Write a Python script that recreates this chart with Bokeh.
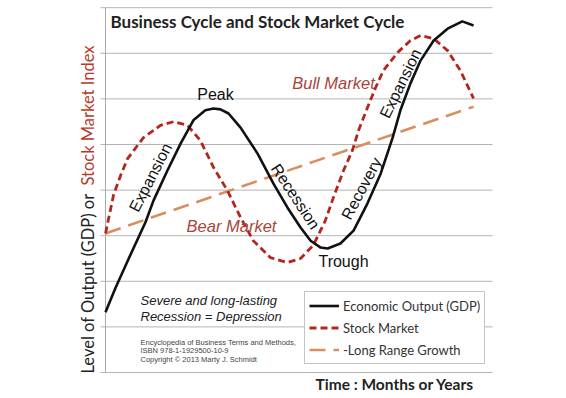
import math
from bokeh.plotting import figure
from bokeh.models import Label, Legend, LegendItem, Range1d
from bokeh.embed import file_html
from bokeh.resources import INLINE

# ---- data (time in % of horizon, level in grid units) ----
time_gdp = [0, 2.6, 5.9, 10.3, 12.4, 16.0, 19.4, 22.7, 25.8, 27.9, 29.7, 31.8, 34.9, 39.3,
            43.4, 47.0, 50.4, 53.0, 55.6, 57.4, 60.7, 64.1, 67.7, 71.1, 74.2, 76.2, 78.8,
            81.4, 84.8, 88.4, 92.2, 95.1]
level_gdp = [1.32, 1.86, 2.48, 3.29, 3.77, 4.43, 5.02, 5.53, 5.75, 5.79, 5.77, 5.68, 5.37, 4.80,
             4.14, 3.62, 3.18, 2.89, 2.74, 2.72, 2.83, 3.11, 3.71, 4.36, 5.15, 5.75, 6.34,
             6.84, 7.28, 7.54, 7.70, 7.61]

time_stock = [0, 2.1, 3.9, 5.7, 9.8, 14.2, 17.6, 21.2, 24.5, 27.9, 31.5, 34.9, 38.2, 42.6,
              47.0, 50.4, 53.7, 56.8, 58.9, 61.5, 63.8, 65.4, 67.7, 69.8, 71.8, 75.5, 78.8,
              81.4, 84.8, 88.4, 91.7, 95.1]
level_stock = [3.05, 3.90, 4.32, 4.69, 5.15, 5.42, 5.50, 5.42, 5.09, 4.50, 3.99, 3.40, 2.89, 2.52,
               2.41, 2.50, 2.79, 3.33, 3.84, 4.43, 4.87, 5.31, 5.81, 6.25, 6.62, 7.02, 7.28,
               7.39, 7.32, 7.06, 6.62, 6.01]

time_trend = [0, 95.1]
level_trend = [3.05, 5.83]

grid_levels = [0, 1, 2, 3, 4, 5, 6, 7, 8]
time_span = [0, 100]

# ---- layout (frame covers the whole canvas) ----
W, H = 556, 394
X0PX, X1PX = 105, 492       # plot area left/right in px
Y0PX, PX_PER_LEVEL = 372, 45.6
PX_PER_T = (X1PX - X0PX) / (time_span[1] - time_span[0])

def tx(px):
    return (px - X0PX) / PX_PER_T

def ty(py):
    return (Y0PX - py) / PX_PER_LEVEL

p = figure(width=W, height=H, output_backend="svg", toolbar_location=None,
           x_range=Range1d(tx(0), tx(W)), y_range=Range1d(ty(H), ty(0)),
           min_border=0, x_axis_location=None, y_axis_location=None)
p.outline_line_color = None
p.background_fill_color = "white"
p.border_fill_color = "white"
for g in p.grid:
    g.visible = False

# horizontal grid lines with small outside tick stubs, plus the vertical axis line
tick_len = 5 / PX_PER_T
p.segment(x0=[time_span[0] - tick_len] * len(grid_levels), x1=[time_span[1]] * len(grid_levels),
          y0=grid_levels, y1=grid_levels, line_color="#b4b4b4", line_width=1)
p.segment(x0=[time_span[0]], x1=[time_span[0]], y0=[grid_levels[0]], y1=[grid_levels[-1]],
          line_color="#a8a8a8", line_width=1)

r_trend = p.line(time_trend, level_trend, line_color="#d98e60", line_width=2.6, line_dash="16 8")
r_stock = p.line(time_stock, level_stock, line_color="#b3261e", line_width=2.8, line_dash="7 4")
r_gdp = p.line(time_gdp, level_gdp, line_color="#111111", line_width=2.6)

SANS = "Liberation Sans"

def lab(text, px, py, size="16px", font=SANS, style="normal", color="#111111",
        align="center", baseline="middle", angle=0.0):
    p.add_layout(Label(x=tx(px), y=ty(py), text=text, text_font=font, text_font_size=size,
                       text_font_style=style, text_color=color, text_align=align,
                       text_baseline=baseline, angle=math.radians(angle)))

lab("Business Cycle and Stock Market Cycle", 110, 21, size="17px", font="Lato",
    style="bold", color="#222222", align="left")
lab("Peak", 215, 94)
lab("Trough", 343, 261)
lab("Expansion", 150, 177, angle=62.8)
lab("Recession", 295, 196, angle=-56.5)
lab("Recovery", 361, 188, angle=62)
lab("Expansion", 400, 83, angle=64)
lab("Bull Market", 333, 82, size="16.5px", style="italic", color="#a8453a")
lab("Bear Market", 231, 225, size="16.5px", style="italic", color="#a8453a")
lab("Severe and long-lasting", 140, 300, size="13px", style="italic", color="#222222", align="left")
lab("Recession = Depression", 140, 316, size="13px", style="italic", color="#222222", align="left")
lab("Encyclopedia of Business Terms and Methods,", 140, 342, size="7.5px", color="#444444", align="left")
lab("ISBN 978-1-1929500-10-9", 140, 350, size="7.5px", color="#444444", align="left")
lab("Copyright \u00a9 2013 Marty J. Schmidt", 140, 359, size="7.5px", color="#444444", align="left")
lab("Time : Months or Years", 315, 383, size="15.5px", font="Lato", style="bold",
    color="#222222", align="left")
lab("Level of Output  (GDP) or", 87, 373, size="16.5px", font="Lato", color="#222222",
    align="left", angle=90)
lab("Stock Market Index", 87, 45, size="16.5px", font="Lato", color="#b83a2a",
    align="right", angle=90)

legend = Legend(items=[LegendItem(label="Economic Output (GDP)", renderers=[r_gdp]),
                       LegendItem(label="Stock Market", renderers=[r_stock]),
                       LegendItem(label="-Long Range Growth", renderers=[r_trend])],
                location=(304, H - 364))
legend.border_line_color = "#8a8a8a"
legend.border_line_width = 1
legend.background_fill_color = "white"
legend.background_fill_alpha = 1
legend.padding = 4
legend.spacing = 3
legend.margin = 0
legend.glyph_width = 30
legend.glyph_height = 19
legend.label_height = 19
legend.label_standoff = 4
legend.label_text_font = "Lato"
legend.label_text_font_size = "13px"
legend.label_text_color = "#333333"
p.add_layout(legend)

open("out.html", "w").write(file_html(p, INLINE))
